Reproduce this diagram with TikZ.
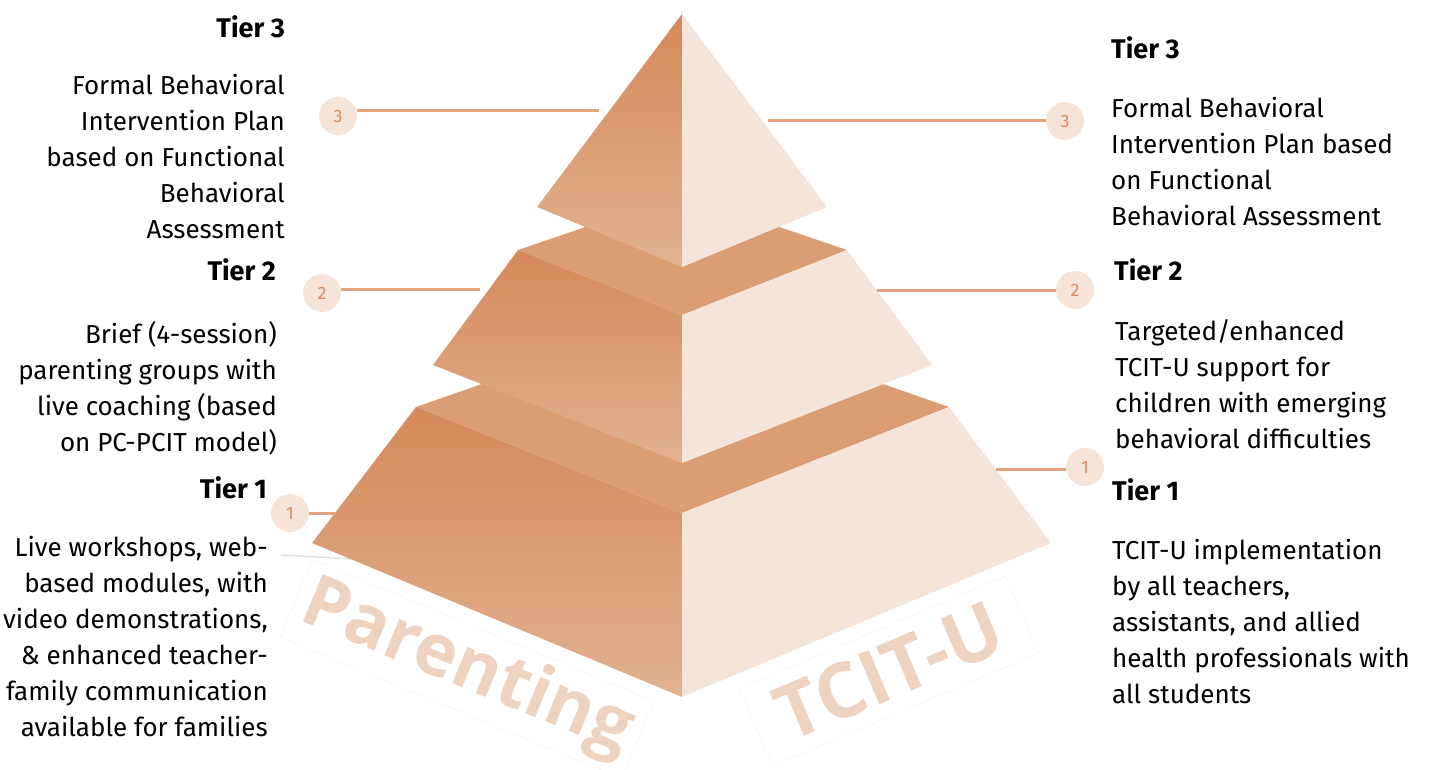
\documentclass[tikz,border=0pt]{standalone}
\usepackage{fontspec}
\setmainfont{Fira Sans}
\newfontfamily\stampfont{Open Sans}
\usepackage{tikz}
\definecolor{faceL}{HTML}{D4895A}
\definecolor{faceLlow}{HTML}{E2B291}
\definecolor{faceT}{HTML}{DB9D74}
\definecolor{faceR}{HTML}{F5E4D9}
\definecolor{tierline}{HTML}{E2A47F}
\definecolor{tierdot}{HTML}{F6E4D9}
\definecolor{tiernum}{HTML}{D98E62}
\definecolor{stamp}{HTML}{EFD3C1}

\begin{document}
\begin{tikzpicture}[x=1pt,y=-1pt,
  leftface/.style={top color=faceL,bottom color=faceLlow},
  topface/.style={fill=faceT},
  rightface/.style={fill=faceR},
  tierdot/.style={circle,fill=tierdot,minimum size=38pt,inner sep=0pt,text=tiernum,font=\fontsize{18}{18}\selectfont},
  link/.style={draw=tierline,line width=3pt},
  tierhead/.style={inner sep=0pt,font=\fontsize{27}{30}\selectfont\bfseries},
  tierbody/.style={inner sep=0pt,font=\fontsize{26}{36}\selectfont},
  stampbox/.style={draw=black!15,densely dotted,fill=white,inner sep=0pt,text=stamp,font=\stampfont\bfseries\fontsize{72}{72}\selectfont}]
\useasboundingbox (0,0) rectangle (1432,770);
\node[stampbox,minimum width=370pt,minimum height=84pt,rotate=-22.5] (parenting) at (467,669) {Parenting};
\node[stampbox,minimum width=289pt,minimum height=84pt,rotate=23] (tcitu) at (889,671) {\fontsize{76}{76}\selectfont TCIT-U};
\coordinate (g1) at (281,555);
\coordinate (g2) at (352,559);
\draw[black!12,line width=1.5pt] (g1) -- (g2);
\coordinate (t1tl) at (416,407);
\coordinate (t1tf) at (682,513);
\coordinate (t1tr) at (949,407);
\coordinate (t1tb) at (682,314);
\coordinate (t1bl) at (312,543);
\coordinate (t1bf) at (682,697);
\coordinate (t1br) at (1051,543);
\coordinate (t2tl) at (518,250);
\coordinate (t2tf) at (682,315);
\coordinate (t2tr) at (847,250);
\coordinate (t2tb) at (682,194);
\coordinate (t2bl) at (433,365);
\coordinate (t2bf) at (682,463);
\coordinate (t2br) at (932,365);
\coordinate (apex) at (682,14);
\coordinate (t3l) at (537,207);
\coordinate (t3f) at (682,267);
\coordinate (t3r) at (827,207);
\foreach \t in {1,2}{
  \fill[topface] (t\t tl) -- (t\t tb) -- (t\t tr) -- (t\t tf) -- cycle;
  \path[leftface] (t\t tl) -- (t\t tf) -- (t\t bf) -- (t\t bl) -- cycle;
  \fill[rightface] (t\t tf) -- (t\t tr) -- (t\t br) -- (t\t bf) -- cycle;
}
\path[leftface] (apex) -- (t3f) -- (t3l) -- cycle;
\fill[rightface] (apex) -- (t3r) -- (t3f) -- cycle;
\foreach \nm/\num/\cx/\cy/\px/\py in {l3/3/338/116/599/111,l2/2/322/293/480/289,l1/1/290/513/336/513}{
  \coordinate (p\nm) at (\px,\py);
  \node[tierdot] (c\nm) at (\cx,\cy) {\num};
  \draw[link] (c\nm.east |- p\nm) -- (p\nm);
}
\foreach \nm/\num/\cx/\cy/\px/\py in {r3/3/1065/121/768/121,r2/2/1075/290/877/290,r1/1/1085/467/996/469}{
  \coordinate (p\nm) at (\px,\py);
  \node[tierdot] (c\nm) at (\cx,\cy) {\num};
  \draw[link] (p\nm) -- (c\nm.west |- p\nm);
}
\node[tierhead,anchor=east] (l3head) at (285,27) {Tier 3};
\node[tierbody,anchor=north east,align=right] (l3body) at (285,74) {Formal Behavioral\\Intervention Plan\\based on Functional\\Behavioral\\Assessment};
\node[tierhead,anchor=east] (l2head) at (276,270) {Tier 2};
\node[tierbody,anchor=north east,align=right] (l2body) at (277,321) {Brief (4-session)\\parenting groups with\\live coaching (based\\on PC-PCIT model)};
\node[tierhead,anchor=east] (l1head) at (267,488) {Tier 1};
\node[tierbody,anchor=north east,align=right] (l1body) at (268,536) {Live workshops, web-\\based modules, with\\video demonstrations,\\\& enhanced teacher-\\family communication\\available for families};
\node[tierhead,anchor=west] (r3head) at (1111,48) {Tier 3};
\node[tierbody,anchor=north west,align=left] (r3body) at (1111,97) {Formal Behavioral\\Intervention Plan based\\on Functional\\Behavioral Assessment};
\node[tierhead,anchor=west] (r2head) at (1114,270) {Tier 2};
\node[tierbody,anchor=north west,align=left] (r2body) at (1115,319) {Targeted/enhanced\\TCIT-U support for\\children with emerging\\behavioral difficulties};
\node[tierhead,anchor=west] (r1head) at (1112,490) {Tier 1};
\node[tierbody,anchor=north west,align=left] (r1body) at (1112,539) {TCIT-U implementation\\by all teachers,\\assistants, and allied\\health professionals with\\all students};
\end{tikzpicture}
\end{document}
